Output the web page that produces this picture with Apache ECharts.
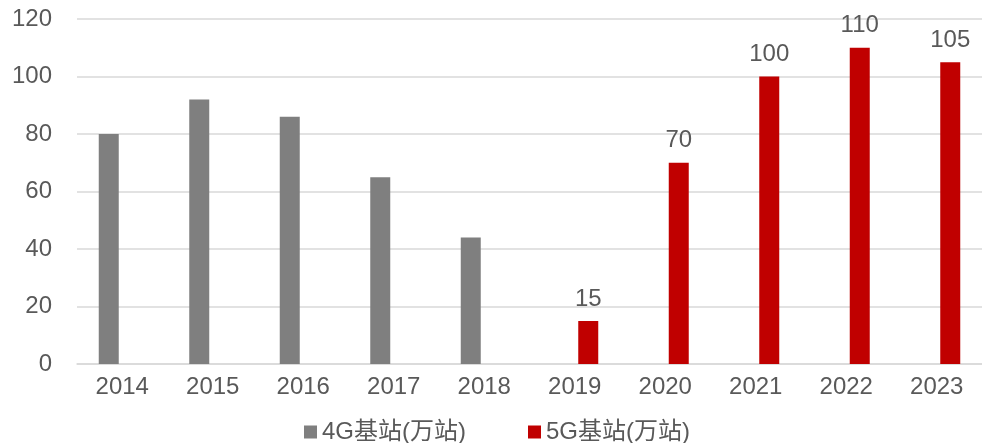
<!DOCTYPE html>
<html>
<head>
<meta charset="utf-8">
<script src="https://cdn.jsdelivr.net/npm/echarts@6/dist/echarts.min.js"></script>
<style>
  html, body { margin: 0; padding: 0; background: #fff; }
  #main { width: 982px; height: 443px; }
</style>
</head>
<body>
<div id="main"></div>
<script>
  // 年份
  var years = ['2014', '2015', '2016', '2017', '2018', '2019', '2020', '2021', '2022', '2023'];
  // 4G基站（万站）
  var data4G = [80, 92, 86, 65, 44, null, null, null, null, null];
  // 5G基站（万站）
  var data5G = [null, null, null, null, null, 15, 70, 100, 110, 105];
  var name4G = '4G基站(万站)';
  var name5G = '5G基站(万站)';

  var fontFamily = '"Liberation Sans", Arial, "Noto Sans CJK SC", sans-serif';

  var myChart = echarts.init(document.getElementById('main'));
  myChart.setOption({
    animation: false,
    textStyle: { fontFamily: fontFamily },
    grid: { left: 77, top: 19, width: 913, height: 345, containLabel: false },
    legend: {
      left: 299,
      top: 415,
      itemWidth: 13,
      itemHeight: 13,
      itemGap: 62,
      icon: 'rect',
      textStyle: { fontSize: 24, color: '#595959', fontFamily: fontFamily },
      data: [name4G, name5G]
    },
    xAxis: {
      type: 'category',
      data: years,
      axisLine: { lineStyle: { color: '#d9d9d9', width: 1.5 } },
      axisTick: { show: false },
      axisLabel: { fontSize: 24, color: '#595959', margin: 11 }
    },
    yAxis: {
      type: 'value',
      min: 0,
      max: 120,
      interval: 20,
      axisLine: { show: false },
      axisTick: { show: false },
      splitLine: { lineStyle: { color: '#d9d9d9', width: 1.5 } },
      axisLabel: { fontSize: 24, color: '#595959', margin: 25 }
    },
    series: [
      {
        name: name4G,
        type: 'bar',
        data: data4G,
        barWidth: 20,
        barGap: '35%',
        itemStyle: { color: '#7f7f7f' }
      },
      {
        name: name5G,
        type: 'bar',
        data: data5G,
        barWidth: 20,
        itemStyle: { color: '#c00000' },
        label: {
          show: true,
          position: 'top',
          distance: 10,
          fontSize: 24,
          color: '#595959'
        }
      }
    ]
  });
</script>
</body>
</html>
